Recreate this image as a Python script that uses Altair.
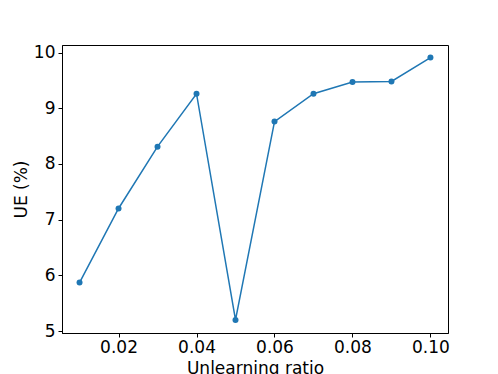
import altair as alt
import pandas as pd

ratios = [0.01, 0.02, 0.03, 0.04, 0.05, 0.06, 0.07, 0.08, 0.09, 0.10]
ue = [5.87, 7.20, 8.31, 9.26, 5.20, 8.76, 9.26, 9.47, 9.48, 9.91]
x_ticks = [0.02, 0.04, 0.06, 0.08, 0.10]
y_ticks = [5, 6, 7, 8, 9, 10]

df = pd.DataFrame({"ratio": ratios, "ue": ue})

chart = alt.Chart(df).mark_line(
    color="#1f77b4", strokeWidth=1.5,
    point=alt.OverlayMarkDef(color="#1f77b4", size=36, filled=True, opacity=1),
).encode(
    x=alt.X("ratio:Q", title="Unlearning ratio",
            scale=alt.Scale(domain=[0.0055, 0.1045], nice=False, zero=False),
            axis=alt.Axis(values=x_ticks, format=".2f", labelPadding=2, titlePadding=5)),
    y=alt.Y("ue:Q", title="UE (%)",
            scale=alt.Scale(domain=[4.965, 10.135], nice=False, zero=False),
            axis=alt.Axis(values=y_ticks, format="d", titlePadding=3, labelPadding=3)),
).properties(
    width=386, height=288,
    autosize=alt.AutoSizeParams(type="none"),
    padding={"left": 54, "top": 37, "right": 42, "bottom": 41},
).configure_view(
    stroke="black", strokeWidth=1
).configure_axis(
    grid=False, domainColor="black", tickColor="black", tickSize=4,
    labelFontSize=17, titleFontSize=17, labelColor="black", titleColor="black",
    labelFont="DejaVu Sans", titleFont="DejaVu Sans", titleFontWeight="normal",
    domainWidth=1,
)

chart.save("out.html", embed_options={"renderer": "svg", "actions": False})
